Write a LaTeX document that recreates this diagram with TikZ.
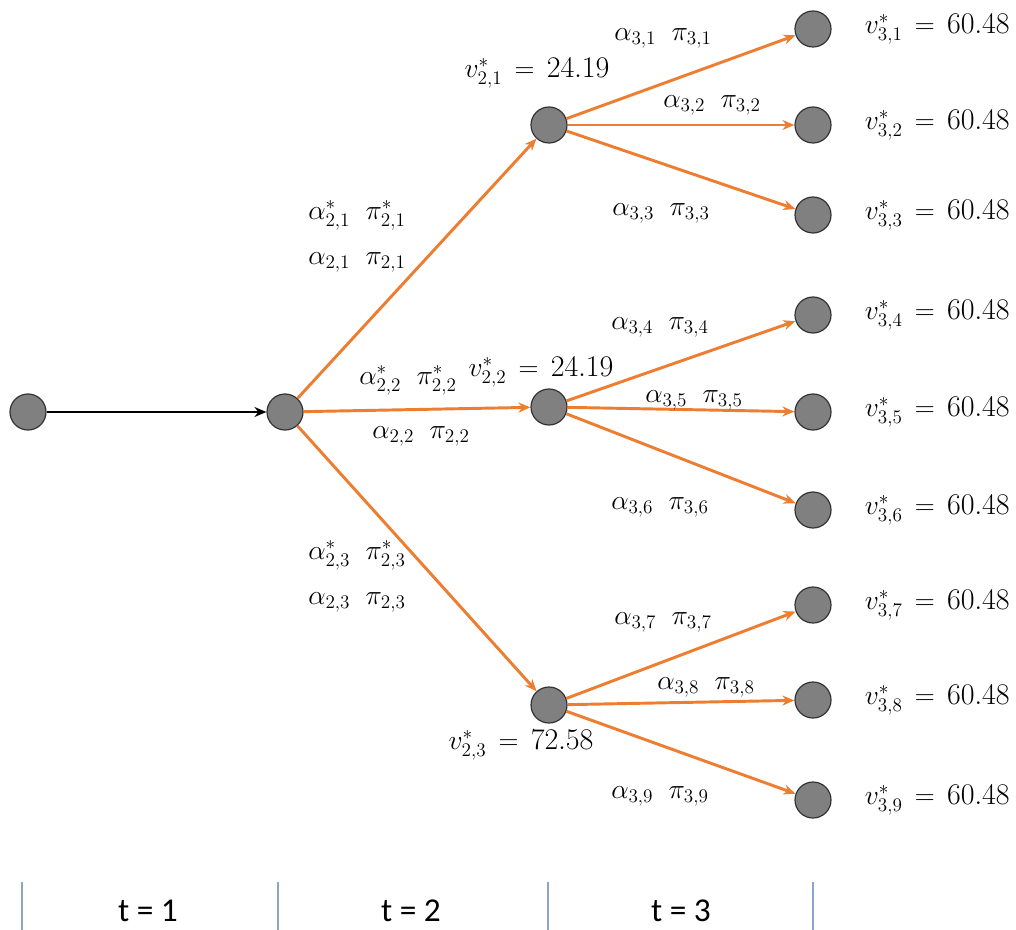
\documentclass[tikz,border=0pt]{standalone}
\usepackage{fontspec}
\newfontfamily\calib{Carlito}
\usetikzlibrary{arrows.meta}
\definecolor{edgeor}{HTML}{ED7D31}
\definecolor{nodegray}{HTML}{808080}
\definecolor{tickc}{HTML}{8EA4C8}
\begin{document}
\begin{tikzpicture}[x=0.75pt,y=-0.75pt,
  st/.style={circle,draw=black!80,line width=0.9pt,fill=nodegray,minimum size=27pt,inner sep=0pt},
  oedge/.style={draw=edgeor,line width=2.2pt,-{Stealth[length=9pt,width=7.5pt]}},
  bedge/.style={draw=black,line width=2.2pt,-{Stealth[length=9pt,width=7.5pt]}},
  lab/.style={font=\fontsize{22}{24}\selectfont,inner sep=0pt},
  vlab/.style={font=\fontsize{22.5}{25}\selectfont,inner sep=0pt},
  tick/.style={draw=tickc,line width=0.8pt},
  tlab/.style={font=\calib\fontsize{25}{27}\selectfont,inner sep=0pt}]
\useasboundingbox (0,0) rectangle (1016,930);
% nodes
\node[st] (r) at (28,412) {};
\node[st] (a) at (285,412) {};
\node[st] (b1) at (549,125) {};
\node[st] (b2) at (549,407) {};
\node[st] (b3) at (549,705) {};
\foreach \i/\y in {1/29,2/125,3/215,4/315,5/412,6/510,7/605,8/700,9/800}{
  \node[st] (c\i) at (813,\y) {};
  \node[vlab,anchor=east] (v\i) at (1010,\y) {$v^*_{3,\i}\,=\,\mathrm{60.48}$};
}
% edges
\draw[bedge] (r) -- (a);
\draw[oedge] (a) -- (b1);
\draw[oedge] (a) -- (b2);
\draw[oedge] (a) -- (b3);
\draw[oedge] (b1) -- (c1);
\draw[oedge] (b1) -- (c2);
\draw[oedge] (b1) -- (c3);
\draw[oedge] (b2) -- (c4);
\draw[oedge] (b2) -- (c5);
\draw[oedge] (b2) -- (c6);
\draw[oedge] (b3) -- (c7);
\draw[oedge] (b3) -- (c8);
\draw[oedge] (b3) -- (c9);
% labels
\node[vlab] (w1) at (537,73) {$v^*_{2,1}\,=\,\mathrm{24.19}$};
\node[vlab] (w2) at (541,372) {$v^*_{2,2}\,=\,\mathrm{24.19}$};
\node[vlab] (w3) at (521,745) {$v^*_{2,3}\,=\,\mathrm{72.58}$};
\node[lab] (s21) at (357,215) {$\alpha^*_{2,1}\;\;\pi^*_{2,1}$};
\node[lab] (l21) at (357,262) {$\alpha_{2,1}\;\;\pi_{2,1}$};
\node[lab] (s22) at (408,380) {$\alpha^*_{2,2}\;\;\pi^*_{2,2}$};
\node[lab] (l22) at (421,436) {$\alpha_{2,2}\;\;\pi_{2,2}$};
\node[lab] (s23) at (357,555) {$\alpha^*_{2,3}\;\;\pi^*_{2,3}$};
\node[lab] (l23) at (357,602) {$\alpha_{2,3}\;\;\pi_{2,3}$};
\node[lab] (l31) at (663,38) {$\alpha_{3,1}\;\;\pi_{3,1}$};
\node[lab] (l32) at (712,105) {$\alpha_{3,2}\;\;\pi_{3,2}$};
\node[lab] (l33) at (661,213) {$\alpha_{3,3}\;\;\pi_{3,3}$};
\node[lab] (l34) at (660,327) {$\alpha_{3,4}\;\;\pi_{3,4}$};
\node[lab] (l35) at (694,400) {$\alpha_{3,5}\;\;\pi_{3,5}$};
\node[lab] (l36) at (660,507) {$\alpha_{3,6}\;\;\pi_{3,6}$};
\node[lab] (l37) at (663,622) {$\alpha_{3,7}\;\;\pi_{3,7}$};
\node[lab] (l38) at (706,687) {$\alpha_{3,8}\;\;\pi_{3,8}$};
\node[lab] (l39) at (660,796) {$\alpha_{3,9}\;\;\pi_{3,9}$};
% time axis
\foreach \n/\x in {k1/22,k2/278,k3/548,k4/813}{
  \coordinate (\n t) at (\x,882);
  \coordinate (\n b) at (\x,930);
  \draw[tick] (\n t) -- (\n b);
}
\node[tlab] (t1) at (148,911) {t = 1};
\node[tlab] (t2) at (411,911) {t = 2};
\node[tlab] (t3) at (681,911) {t = 3};
\end{tikzpicture}
\end{document}
